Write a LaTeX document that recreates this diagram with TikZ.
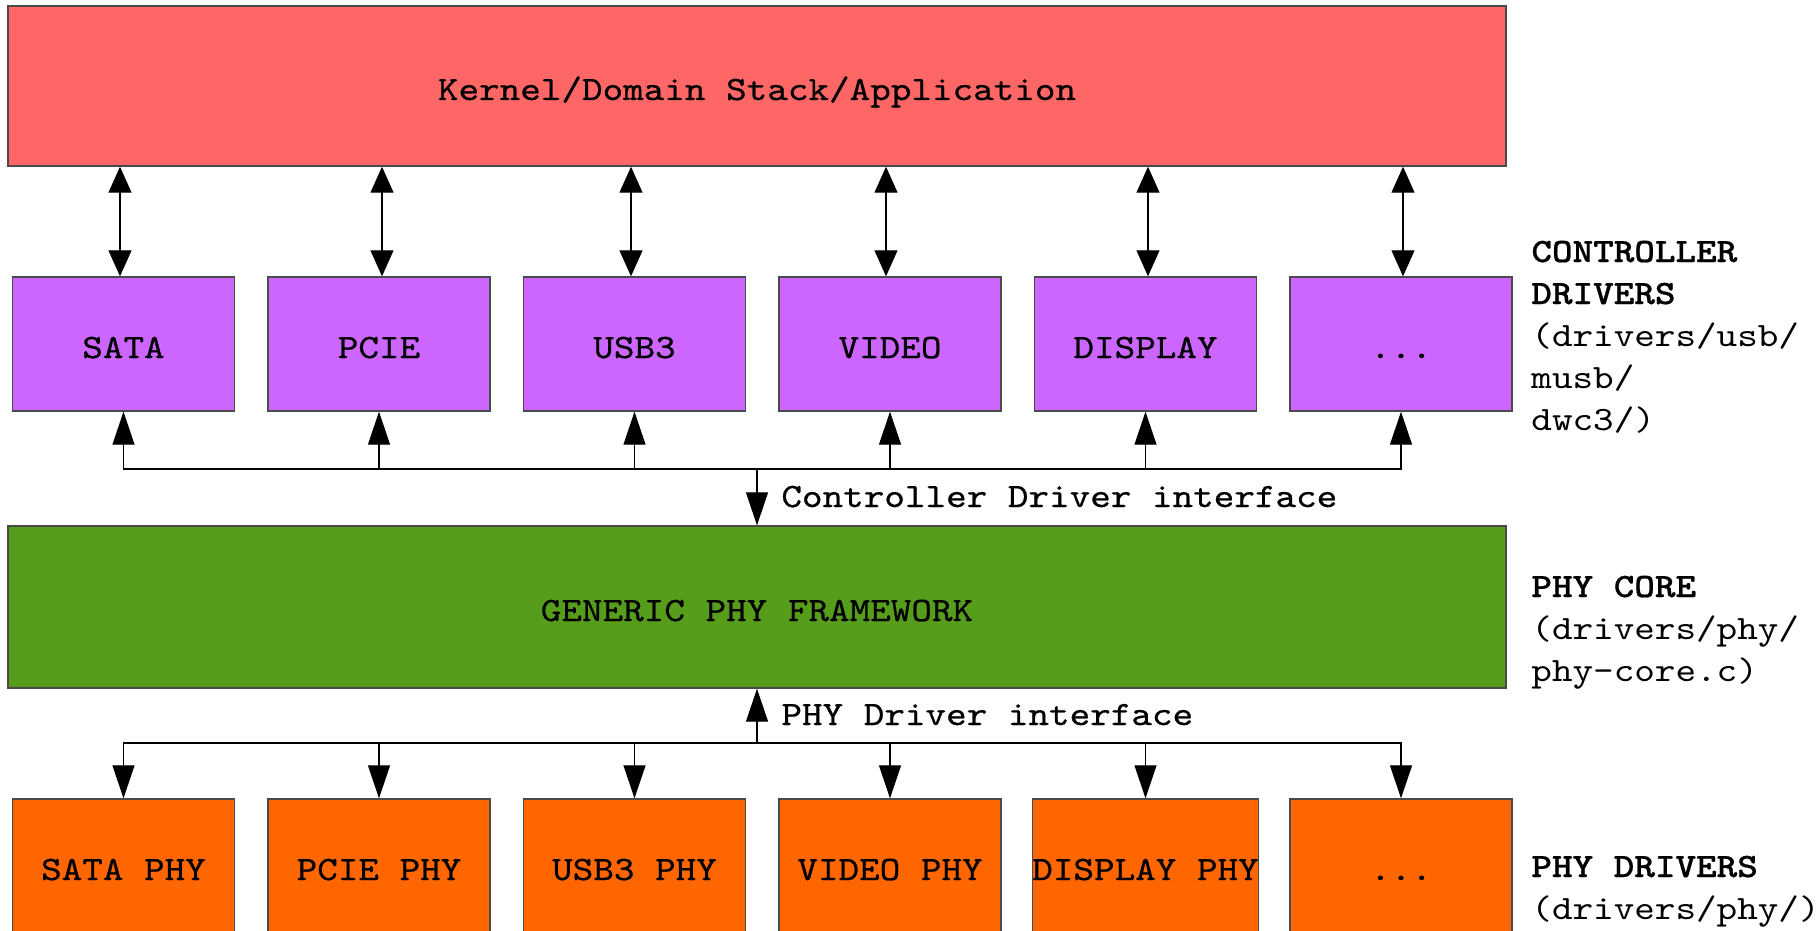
\documentclass[tikz,border=0pt]{standalone}
\usepackage{fontspec}
\newfontfamily\dfont[FakeStretch=1.15,BoldFont=lmmonolt10-bold.otf,BoldFeatures={FakeBold=0.6}]{lmmono10-regular.otf}
\newfontfamily\efont[FakeStretch=1.15,FakeBold=0.7]{lmmono10-regular.otf}
\usetikzlibrary{arrows.meta}
\definecolor{kred}{HTML}{FF6666}
\definecolor{kpurple}{HTML}{CC66FF}
\definecolor{kgreen}{HTML}{579D1C}
\definecolor{korange}{HTML}{FF6600}
\definecolor{kborder}{HTML}{4A4A4A}
\newcommand\mydots{...}
\begin{document}
\begin{tikzpicture}[x=0.5pt,y=-0.5pt,
  txt/.style={inner sep=0pt, font=\dfont\fontsize{17.05pt}{21pt}\selectfont},
  heavy/.style={inner sep=0pt, font=\efont\fontsize{17.05pt}{21pt}\selectfont},
  anybox/.style={heavy, draw=kborder, line width=0.7pt, text height=14pt, text depth=0pt},
  bigbox/.style={anybox, minimum width=749pt},
  smallbox/.style={anybox, minimum width=111pt, minimum height=67pt},
  cbox/.style={smallbox, fill=kpurple},
  pbox/.style={smallbox, fill=korange},
  arr/.style={line width=0.6pt, -{Triangle[length=16.5pt,width=11pt]}},
  dbl/.style={line width=0.6pt, {Triangle[length=13pt,width=11.5pt]}-{Triangle[length=13pt,width=11.5pt]}},
  side/.style={txt, anchor=base west, align=left}]
\clip (0,0) rectangle (1820,931);
\fill[white] (0,0) rectangle (1820,931);

\node[bigbox, fill=kred, minimum height=80pt] (red) at (757,86) {Kernel/Domain Stack/Application};

\foreach \i/\x/\t in {1/123.5/SATA, 2/379/PCIE, 3/634.5/USB3, 4/890/VIDEO, 5/1145.5/DISPLAY, 6/1401/\mydots}
  \node[cbox] (c\i) at (\x,344) {\t};

\foreach \i/\x/\t in {1/123.5/SATA PHY, 2/379/PCIE PHY, 3/634.5/USB3 PHY, 4/890/VIDEO PHY, 5/1145.5/DISPLAY PHY, 6/1401/\mydots}
  \node[pbox] (p\i) at (\x,866) {\t};

\node[bigbox, fill=kgreen, minimum height=81pt] (green) at (757,607) {GENERIC PHY FRAMEWORK};

\foreach \i/\d in {1/-3.5, 2/3, 3/-3.5, 4/-4, 5/2.5, 6/2} {
  \coordinate (a\i) at ([xshift=\d*0.5pt]c\i.north);
  \draw[dbl] (a\i |- red.south) -- (a\i);
}

\coordinate (cbus) at (757,469);
\coordinate (pbus) at (757,743);
\draw[arr] (cbus) -- (green.north);
\foreach \i in {1,2,3,4,5,6} \draw[arr] (cbus) -| (c\i.south);
\draw[arr] (pbus) -- (green.south);
\foreach \i in {1,2,3,4,5,6} \draw[arr] (pbus) -| (p\i.north);

\node[heavy, anchor=base west] (cdi) at (781,507) {Controller Driver interface};
\node[heavy, anchor=base west] (pdi) at (781,725) {PHY Driver interface};

\node[side] (ctl) at (1531,430) {\textbf{CONTROLLER}\\\textbf{DRIVERS}\\(drivers/usb/\\musb/\\dwc3/)};
\node[side] (core) at (1531,681) {\textbf{PHY CORE}\\(drivers/phy/\\phy-core.c)};
\node[side] (drv) at (1531,919) {\textbf{PHY DRIVERS}\\(drivers/phy/)};
\end{tikzpicture}
\end{document}
